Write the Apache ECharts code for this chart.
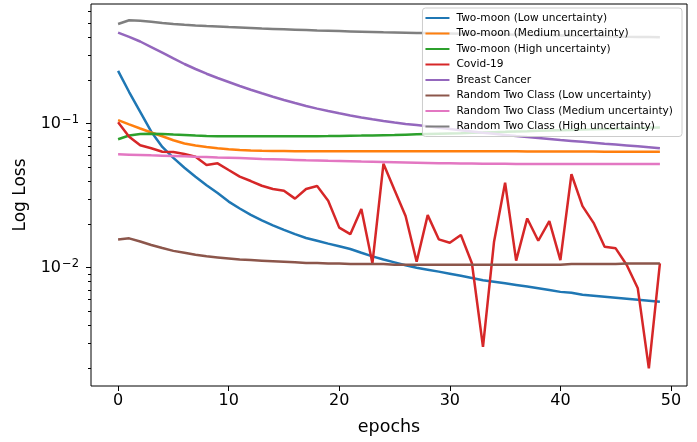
<!DOCTYPE html>
<html>
<head>
<meta charset="utf-8">
<script src="https://cdn.jsdelivr.net/npm/echarts@6/dist/echarts.min.js"></script>
<style>
  html, body { margin: 0; padding: 0; background: #fff; }
  #chart { width: 697px; height: 442px; }
</style>
</head>
<body>
<div id="chart"></div>
<script>
// epochs 0..49
const epochs = [0,1,2,3,4,5,6,7,8,9,10,11,12,13,14,15,16,17,18,19,20,21,22,23,24,25,26,27,28,29,30,31,32,33,34,35,36,37,38,39,40,41,42,43,44,45,46,47,48,49]

const twoMoonLow = [0.233,0.166,0.121,0.088,0.069,0.0579,0.0495,0.0428,0.0374,0.0330,0.0288,0.0258,0.0233,0.0213,0.0197,0.0183,0.0171,0.0161,0.0154,0.0147,0.0141,0.0135,0.0127,0.0120,0.0114,0.0109,0.0104,0.0100,0.0097,0.0094,0.0091,0.0088,0.0085,0.0082,0.0080,0.0078,0.0076,0.0074,0.0072,0.0070,0.0068,0.0067,0.0065,0.0064,0.0063,0.0062,0.0061,0.0060,0.0059,0.0058]
const twoMoonMedium = [0.106,0.099,0.0926,0.0869,0.0818,0.0768,0.0729,0.0706,0.0689,0.0675,0.0664,0.0657,0.0652,0.0649,0.0647,0.0646,0.0645,0.0645,0.0645,0.0645,0.0645,0.0645,0.0645,0.0645,0.0645,0.0645,0.0645,0.0645,0.0644,0.0644,0.0644,0.0644,0.0644,0.0643,0.0643,0.0643,0.0643,0.0642,0.0642,0.0642,0.0642,0.0641,0.0641,0.0641,0.0640,0.0640,0.0640,0.0640,0.0639,0.0639]
const twoMoonHigh = [0.078,0.0828,0.0848,0.0852,0.0848,0.0841,0.0835,0.0828,0.0822,0.0819,0.0818,0.0817,0.0817,0.0817,0.0817,0.0817,0.0818,0.0819,0.0820,0.0821,0.0823,0.0825,0.0827,0.0830,0.0833,0.0836,0.0840,0.0844,0.0848,0.0852,0.0856,0.0860,0.0865,0.0869,0.0874,0.0878,0.0883,0.0887,0.0892,0.0896,0.0901,0.0905,0.0910,0.0914,0.0919,0.0923,0.0928,0.0932,0.0937,0.0941]
const covid19 = [0.1023,0.0812,0.0708,0.0675,0.0639,0.0636,0.0616,0.0590,0.0517,0.0531,0.0477,0.0429,0.0400,0.0371,0.0352,0.0343,0.0302,0.0352,0.0369,0.0292,0.0190,0.0171,0.0256,0.01074,0.0528,0.0347,0.0229,0.0110,0.0232,0.01575,0.0149,0.01686,0.01074,0.00282,0.01517,0.0389,0.0112,0.0220,0.0154,0.0211,0.01131,0.0446,0.0268,0.0205,0.0140,0.01364,0.01045,0.0072,0.0020,0.01074]
const breastCancer = [0.4286,0.4013,0.3723,0.3408,0.3121,0.2845,0.2598,0.2398,0.2224,0.2076,0.1948,0.1827,0.1722,0.1626,0.1540,0.1461,0.1392,0.1327,0.1273,0.1225,0.1181,0.1142,0.1106,0.1073,0.1044,0.1018,0.0995,0.0979,0.0959,0.0938,0.0919,0.0900,0.0883,0.0866,0.0851,0.0836,0.0821,0.0808,0.0796,0.0783,0.0770,0.0760,0.0749,0.0738,0.0727,0.0717,0.0707,0.0697,0.0686,0.0675]
const randomLow = [0.0157,0.0160,0.0152,0.0144,0.0137,0.0131,0.0127,0.0123,0.0120,0.0118,0.0116,0.0114,0.0113,0.0112,0.0111,0.0110,0.0109,0.0108,0.0108,0.0107,0.0107,0.0106,0.0106,0.0106,0.0106,0.0105,0.0105,0.0105,0.0105,0.0105,0.0105,0.0105,0.0105,0.0105,0.0105,0.0105,0.0105,0.0105,0.0105,0.0105,0.0105,0.0106,0.0106,0.0106,0.0106,0.0106,0.0107,0.0107,0.0107,0.0107]
const randomMedium = [0.0613,0.0610,0.0607,0.0603,0.0600,0.0597,0.0594,0.0590,0.0587,0.0583,0.0580,0.0577,0.0574,0.0570,0.0567,0.0564,0.0561,0.0558,0.0556,0.0553,0.0551,0.0549,0.0546,0.0544,0.0542,0.0540,0.0538,0.0536,0.0534,0.0532,0.0531,0.0530,0.0529,0.0528,0.0527,0.0527,0.0526,0.0526,0.0525,0.0525,0.0525,0.0525,0.0525,0.0525,0.0525,0.0525,0.0525,0.0525,0.0525,0.0525]
const randomHigh = [0.4926,0.5224,0.519,0.510,0.501,0.4933,0.4870,0.4816,0.4771,0.4732,0.4694,0.4657,0.4620,0.4583,0.4554,0.4525,0.4496,0.4467,0.4438,0.4417,0.4396,0.4375,0.4354,0.4333,0.4312,0.4299,0.4285,0.4271,0.4257,0.4244,0.4230,0.4217,0.4203,0.4189,0.4176,0.4162,0.4149,0.4136,0.4122,0.4109,0.4096,0.4083,0.4070,0.4057,0.4044,0.4031,0.4018,0.4006,0.3993,0.3980]

const seriesNames = [
  'Two-moon (Low uncertainty)',
  'Two-moon (Medium uncertainty)',
  'Two-moon (High uncertainty)',
  'Covid-19',
  'Breast Cancer',
  'Random Two Class (Low uncertainty)',
  'Random Two Class (Medium uncertainty)',
  'Random Two Class (High uncertainty)'
]
const seriesValues = [twoMoonLow, twoMoonMedium, twoMoonHigh, covid19, breastCancer, randomLow, randomMedium, randomHigh]
const colors = ['#1f77b4','#ff7f0e','#2ca02c','#d62728','#9467bd','#8c564b','#e377c2','#7f7f7f']

const xTicks = [0, 10, 20, 30, 40, 50]
const yMajorTicks = [0.01, 0.1]
const yMinorTicks = [0.002,0.003,0.004,0.005,0.006,0.007,0.008,0.009,0.02,0.03,0.04,0.05,0.06,0.07,0.08,0.09,0.2,0.3,0.4,0.5,0.6]

const font = 'DejaVu Sans'

const option = {
  animation: false,
  color: colors,
  grid: {
    left: 91, right: 10, top: 4, bottom: 56,
    show: true, borderColor: '#000', borderWidth: 1
  },
  legend: {
    orient: 'vertical',
    right: 15, top: 8,
    icon: 'rect',
    itemWidth: 24, itemHeight: 2,
    itemGap: 3.5,
    padding: [4, 9, 4, 3],
    backgroundColor: 'rgba(255,255,255,0.8)',
    borderColor: '#cccccc', borderWidth: 1, borderRadius: 3,
    textStyle: { fontFamily: font, fontSize: 10.6, color: '#000', lineHeight: 12, padding: [0, 0, 0, 2] },
    data: seriesNames
  },
  xAxis: {
    type: 'value',
    min: -2.45, max: 51.45,
    name: 'epochs', nameLocation: 'middle', nameGap: 32,
    nameTextStyle: { fontFamily: font, fontSize: 17.5, color: '#000' },
    axisLine: { show: false, onZero: false },
    splitLine: { show: false },
    axisTick: { customValues: xTicks, length: 5, lineStyle: { color: '#000' } },
    axisLabel: { customValues: xTicks, margin: 7, fontFamily: font, fontSize: 16, color: '#000' }
  },
  yAxis: [{
    type: 'log', logBase: 10,
    min: 0.00151, max: 0.678,
    name: 'Log Loss', nameLocation: 'middle', nameGap: 62,
    nameTextStyle: { fontFamily: font, fontSize: 17, color: '#000' },
    axisLine: { show: false, onZero: false },
    splitLine: { show: false },
    axisTick: { customValues: yMajorTicks, length: 5, lineStyle: { color: '#000' } },
    axisLabel: {
      customValues: yMajorTicks, margin: 12,
      formatter: v => '{b|10}{s|\u2212' + Math.round(-Math.log10(v)) + '}',
      rich: {
        b: { fontFamily: font, fontSize: 16, color: '#000' },
        s: { fontFamily: font, fontSize: 11.5, color: '#000', verticalAlign: 'top', padding: [0, 0, 8, 1] }
      }
    }
  }, {
    type: 'log', logBase: 10,
    min: 0.00151, max: 0.678,
    position: 'left',
    axisLine: { show: false, onZero: false },
    splitLine: { show: false },
    axisTick: { customValues: yMinorTicks, length: 3, lineStyle: { color: '#000' } },
    axisLabel: { show: false }
  }],
  series: seriesNames.map((name, i) => ({
    name: name,
    type: 'line',
    symbol: 'none',
    lineStyle: { width: 2.5 },
    data: epochs.map((e, j) => [e, seriesValues[i][j]])
  }))
}

const chart = echarts.init(document.getElementById('chart'))
chart.setOption(option)
</script>
</body>
</html>
